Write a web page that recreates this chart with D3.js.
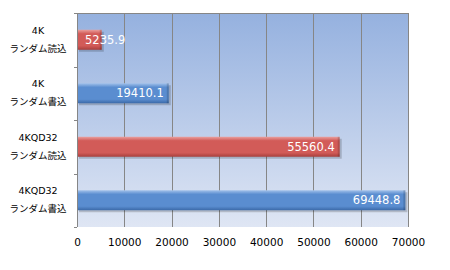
<!DOCTYPE html>
<html>
<head>
<meta charset="utf-8">
<script src="https://cdn.jsdelivr.net/npm/d3@7"></script>
<style>
body { margin: 0; background: #fff; }
text { font-family: "DejaVu Sans", "Noto Sans CJK JP", sans-serif; }
</style>
</head>
<body>
<div id="chart"></div>
<script>
var categories = ["4K|ランダム読込", "4K|ランダム書込", "4KQD32|ランダム読込", "4KQD32|ランダム書込"];
var values = [5235.9, 19410.1, 55560.4, 69448.8];
var series = ["read", "write", "read", "write"];
var tickValues = [0, 10000, 20000, 30000, 40000, 50000, 60000, 70000];

var width = 450, height = 270;
var margin = {top: 13, right: 42, bottom: 43, left: 77};
var w = width - margin.left - margin.right,
    h = height - margin.top - margin.bottom;

var svg = d3.select("#chart").append("svg")
    .attr("width", width)
    .attr("height", height);

var defs = svg.append("defs");

var bg = defs.append("linearGradient").attr("id", "bg")
    .attr("x1", 0).attr("y1", 0).attr("x2", 0).attr("y2", 1);
bg.append("stop").attr("offset", "0%").attr("stop-color", "#95b1df");
bg.append("stop").attr("offset", "100%").attr("stop-color", "#dfe6f4");

function barGrad(id, light, mid, dark) {
    var g = defs.append("linearGradient").attr("id", id)
        .attr("x1", 0).attr("y1", 0).attr("x2", 0).attr("y2", 1);
    g.append("stop").attr("offset", "0%").attr("stop-color", light);
    g.append("stop").attr("offset", "20%").attr("stop-color", mid);
    g.append("stop").attr("offset", "80%").attr("stop-color", mid);
    g.append("stop").attr("offset", "100%").attr("stop-color", dark);
}
barGrad("read", "#eaa09e", "#d25b58", "#a83f3c");
barGrad("write", "#a2c1ea", "#5a8dd0", "#3b69a8");

var x = d3.scaleLinear().domain([0, 70000]).range([0, w]);
var y = d3.scaleBand().domain(categories).range([0, h]);

var g = svg.append("g")
    .attr("transform", "translate(" + margin.left + "," + margin.top + ")");

g.append("rect")
    .attr("width", w)
    .attr("height", h)
    .attr("fill", "url(#bg)");

// grid lines
g.selectAll(".grid")
    .data(tickValues)
    .enter().append("line")
    .attr("x1", function (d) { return Math.round(x(d)) + 0.5; })
    .attr("x2", function (d) { return Math.round(x(d)) + 0.5; })
    .attr("y1", 0)
    .attr("y2", h)
    .attr("stroke", "#868686");

g.append("line")
    .attr("x1", 0).attr("x2", w)
    .attr("y1", 0.5).attr("y2", 0.5)
    .attr("stroke", "#868686");

// bars
var barH = 20;
var bar = g.selectAll(".bar")
    .data(values)
    .enter().append("g")
    .attr("class", "bar")
    .attr("transform", function (d, i) {
        return "translate(0," + (y(categories[i]) + y.bandwidth() / 2 - barH / 2) + ")";
    });

// shadow
bar.append("rect")
    .attr("x", 2)
    .attr("y", 2)
    .attr("width", function (d) { return x(d); })
    .attr("height", barH)
    .attr("fill", "#000")
    .attr("opacity", 0.18);

bar.append("rect")
    .attr("x", 1)
    .attr("width", function (d) { return x(d) - 1; })
    .attr("height", barH)
    .attr("fill", function (d, i) { return "url(#" + series[i] + ")"; });

// end bevel
bar.append("rect")
    .attr("x", function (d) { return x(d) - 2; })
    .attr("width", 2)
    .attr("height", barH)
    .attr("fill", "#000")
    .attr("opacity", 0.15);

// value labels; short bars let the text start near the axis
bar.append("text")
    .attr("x", function (d) { return x(d) < 60 ? 8 : x(d) - 5; })
    .attr("y", barH / 2 + 4)
    .attr("text-anchor", function (d) { return x(d) < 60 ? "start" : "end"; })
    .attr("fill", "#fff")
    .style("font-size", "11.5px")
    .text(function (d) { return d.toFixed(1); });

// left axis
g.append("line")
    .attr("x1", 0.5).attr("x2", 0.5)
    .attr("y1", 0).attr("y2", h)
    .attr("stroke", "#868686");

var bounds = categories.map(function (c) { return y(c); }).concat([h]);
g.selectAll(".ytick")
    .data(bounds)
    .enter().append("line")
    .attr("x1", -3).attr("x2", 0)
    .attr("y1", function (d) { return Math.round(d) + 0.5; })
    .attr("y2", function (d) { return Math.round(d) + 0.5; })
    .attr("stroke", "#868686");

var labels = g.selectAll(".ylab")
    .data(categories)
    .enter().append("text")
    .attr("text-anchor", "middle")
    .attr("fill", "#000")
    .style("font-size", "9.5px")
    .attr("transform", function (d) {
        return "translate(-39," + (y(d) + y.bandwidth() / 2) + ")";
    });
labels.append("tspan")
    .attr("x", 0).attr("y", -6)
    .text(function (d) { return d.split("|")[0]; });
labels.append("tspan")
    .attr("x", 0).attr("y", 12)
    .text(function (d) { return d.split("|")[1]; });

// bottom axis labels
var xAxis = d3.axisBottom(x).tickValues(tickValues).tickSize(0).tickPadding(12)
    .tickFormat(d3.format("d"));
var ax = g.append("g")
    .attr("transform", "translate(0," + h + ")")
    .call(xAxis);
ax.select(".domain").remove();
ax.selectAll("text")
    .style("font-family", "\"DejaVu Sans\", sans-serif")
    .style("font-size", "10.5px")
    .attr("fill", "#000");
</script>
</body>
</html>
